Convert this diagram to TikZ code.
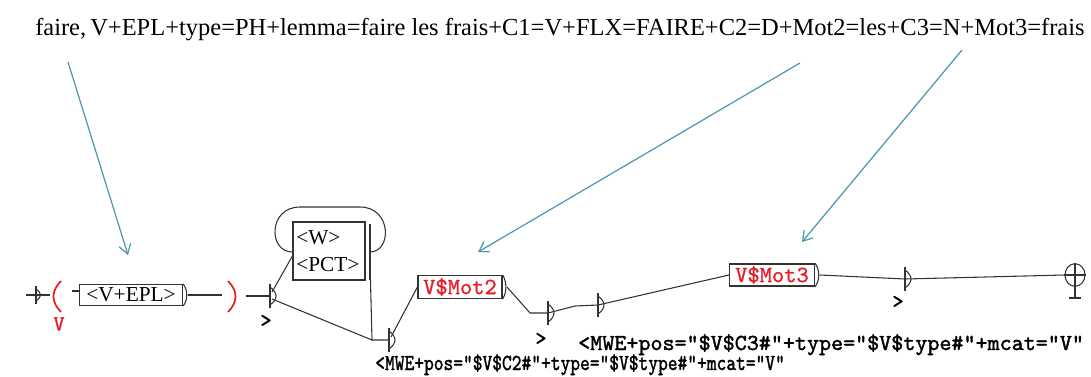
\documentclass[tikz,border=0pt]{standalone}
\usepackage{fontspec}
\setmainfont{Liberation Serif}
\newfontfamily\mwefont{lmmono10-regular.otf}[FakeBold=1.6]
\newfontfamily\redfont{lmmono10-regular.otf}[FakeBold=1.0]
\usetikzlibrary{arrows.meta,shapes.geometric}
\definecolor{arrowblue}{RGB}{75,150,175}
\definecolor{unired}{RGB}{230,30,40}
\begin{document}
\begin{tikzpicture}[x=0.75pt,y=-0.75pt,
  wire/.style={draw=black!80, line width=0.8pt},
  pointer/.style={draw=arrowblue, line width=0.9pt, -{Straight Barb[length=7pt,width=9pt]}},
  lbox/.style={draw=black!80, line width=0.9pt, inner sep=0pt, font=\fontsize{16}{18}\selectfont},
  rbox/.style={draw=black!80, line width=0.9pt, inner sep=0pt, text=unired, font=\redfont\fontsize{17.5}{18}\selectfont},
  outtxt/.style={font=\mwefont\fontsize{17.2}{18}\selectfont, inner sep=0pt, anchor=base west},
  gt/.style={font=\mwefont\fontsize{16}{16}\selectfont, inner sep=0pt},
  pics/emptyst/.style={code={
    \draw[line width=0.8pt, black!80] (0,-12) -- (0,12);
    \draw[line width=0.8pt, black!80] (0,-9) .. controls (8,-3) and (8,3) .. (0,9);}}
]
\useasboundingbox (0,0) rectangle (1091,376);

% title
\node[anchor=base west, inner sep=0pt] (title) at (35,35)
  {\resizebox{787pt}{!}{\fontsize{18}{20}\selectfont faire,\,V+EPL+type=PH+lemma=faire les frais+C1=V+FLX=FAIRE+C2=D+Mot2=les+C3=N+Mot3=frais}};
\coordinate (s1) at (68,62);
\coordinate (s2) at (800,63);
\coordinate (s3) at (962,50);

% initial state
\coordinate (init) at (38,295);
\draw[wire] (26,295) -- (50,295);
\draw[line width=0.8pt, black!80] (36,286) -- (36,304);
\draw[line width=0.8pt, black!80] (36,289) .. controls (42,293) and (42,297) .. (36,301);

% red parenthesis V(
\draw[unired, line width=1.3pt] (61,281) .. controls (51,291) and (51,302) .. (61,312);
\node[text=unired, font=\mwefont\fontsize{16}{16}\selectfont, inner sep=0pt] (vlab) at (59,324) {V};
\coordinate (lpar) at (57,296);

% box <V+EPL>
\node[lbox, minimum width=77.25pt, minimum height=15.75pt] (b1) at (131,295) {<V+EPL>};
\draw[wire] (72,291) -- (b1.west |- 72,291);
\draw[line width=0.8pt, black!80] (b1.north east) .. controls (188,290) and (188,300) .. (b1.south east);

% right parenthesis
\draw[unired, line width=1.3pt] (228,281) .. controls (238,291) and (238,302) .. (228,312);
\coordinate (rpar) at (232,296);
\draw[wire] (188,295) -- (222,295);

% first empty state
\coordinate (n1) at (270,296);
\pic at (n1) {emptyst};
\draw[wire] (246,296) -- (n1);
\node[gt] (g1) at (266,321) {>};

% box <W> <PCT>
\node[draw=black!80, line width=0.9pt, minimum width=54pt, minimum height=43.5pt, inner sep=0pt] (b2) at (329,251) {};
\node[anchor=west, inner sep=0pt, font=\fontsize{16}{18}\selectfont] (b2w) at (296,238) {<W>};
\node[anchor=west, inner sep=0pt, font=\fontsize{16}{18}\selectfont] (b2p) at (296,265) {<PCT>};
\draw[line width=0.8pt, black!80] (370,224) -- (370,280);
\draw[wire] (b2.west |- 0,252) .. controls (268,252) and (268,207) .. (300,207) -- (360,207)
   .. controls (392,207) and (392,252) .. (370,252);
\draw[wire] (272,292) -- (b2.west |- 0,256);

% junction and second empty state
\coordinate (j) at (372,340);
\coordinate (n2) at (389,340);
\draw[wire] (272,299) -- (j);
\draw[wire] (370,262) -- (j) -- (n2);
\pic at (n2) {emptyst};
\node[outtxt] (o2) at (375,370) {\scalebox{0.81}[1]{<MWE+pos="\$V\$C2\#"+type="\$V\$type\#"+mcat="V"}};

% V$Mot2
\node[rbox, minimum width=63pt, minimum height=17.25pt] (m2) at (460,287) {V\$Mot2};
\draw[line width=0.8pt, black!80] (m2.north east) .. controls (507,282) and (507,292) .. (m2.south east);
\draw[wire] (391,337) -- (m2.west);

% third and fourth empty states
\coordinate (n3) at (548,313);
\coordinate (n4) at (598,305);
\draw[wire] (507,287) -- (530,313) -- (n3);
\pic at (n3) {emptyst};
\node[gt] (g3) at (541,339) {>};
\draw[wire] (n3) -- (575,306) -- (n4);
\pic at (n4) {emptyst};
\node[outtxt] (o1) at (578,350) {<MWE+pos="\$V\$C3\#"+type="\$V\$type\#"+mcat="V"};

% V$Mot3
\node[rbox, minimum width=63.75pt, minimum height=16.5pt] (m3) at (772,275) {V\$Mot3};
\draw[line width=0.8pt, black!80] (m3.north east) .. controls (820,270) and (820,280) .. (m3.south east);
\draw[wire] (n4) -- (m3.west);

% fifth empty state
\coordinate (n5) at (905,279);
\draw[wire] (820,275) -- (n5);
\pic at (n5) {emptyst};
\node[gt] (g5) at (898,302) {>};

% final state
\node[draw=black!80, line width=0.8pt, ellipse, minimum width=15pt, minimum height=17pt, inner sep=0pt] (fin) at (1075,275) {};
\draw[line width=0.8pt, black!80] (fin.west) -- (fin.east) (fin.north) -- (fin.south);
\draw[line width=0.8pt, black!80] (fin.south) -- (1075,298) (1069,298) -- (1081,298);
\draw[wire] (n5) -- (fin.west);

% pointer arrows
\draw[pointer] (s1) -- (128,255);
\draw[pointer] (s2) -- (478,252);
\draw[pointer] (s3) -- (802,242);
\end{tikzpicture}
\end{document}
